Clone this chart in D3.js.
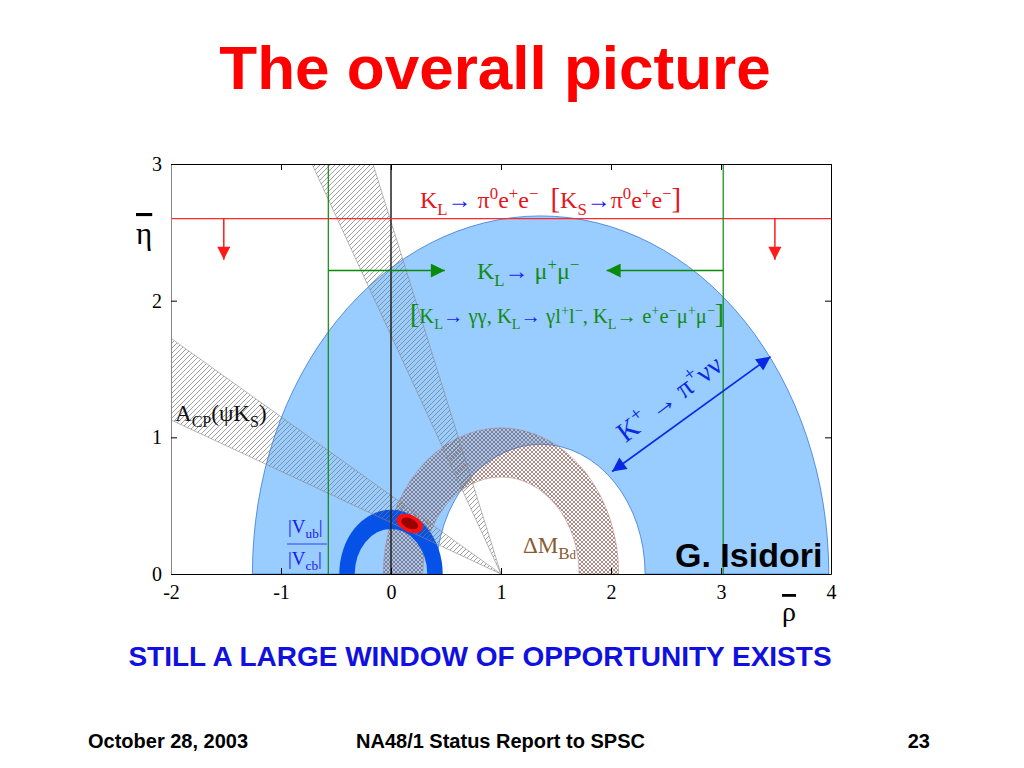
<!DOCTYPE html>
<html>
<head>
<meta charset="utf-8">
<script src="https://cdn.jsdelivr.net/npm/d3@7"></script>
<style>body{margin:0;background:#fff;}</style>
</head>
<body>
<div id="chart"></div>
<script>
// values (rho-bar, eta-bar)
var xTicks = [-2, -1, 0, 1, 2, 3, 4];
var yTicks = [0, 1, 2, 3];
var kPiNuNu = [1.36, 0.95, 2.62];     // centre rho, inner r, outer r
var vubRing = [0, 0.33, 0.47];        // centre rho, inner r, outer r
var dmBd = [1, 0.71, 1.07];           // centre rho, inner r, outer r
var acpWedge = [20.6, 29.9];          // degrees, apex at (1,0)
var alphaWedge = [60.2, 68.8];
var fitPoint = [0.17, 0.37];
var klPi0Limit = 2.6, klPi0Arrows = [-1.52, 3.49];
var klMuMuLimits = [-0.57, 3.02], klMuMuEta = 2.22, klMuMuTips = [0.49, 1.96];
var kPlusArrow = [[2.01, 0.75], [3.45, 1.59]];

var serif = "'Liberation Serif', 'DejaVu Serif', serif",
    sans = "'Liberation Sans', Arial, sans-serif";

var svg = d3.select("#chart").append("svg")
    .attr("width", 1024).attr("height", 768);

var x = d3.scaleLinear().domain([-2, 4]).range([171, 831]);
var y = d3.scaleLinear().domain([0, 3]).range([574, 164]);

var defs = svg.append("defs");
defs.append("clipPath").attr("id", "plot")
  .append("rect").attr("x", x(-2)).attr("y", y(3))
  .attr("width", x(4) - x(-2)).attr("height", y(0) - y(3));

var hatch = defs.append("pattern").attr("id", "hatch")
    .attr("patternUnits", "userSpaceOnUse").attr("width", 5).attr("height", 5);
hatch.append("path").attr("d", "M0,5L5,0M-1,1L1,-1M4,6L6,4")
    .attr("stroke", "#777").attr("stroke-width", 0.7);

var cross = defs.append("pattern").attr("id", "cross")
    .attr("patternUnits", "userSpaceOnUse").attr("width", 4).attr("height", 4);
cross.append("path").attr("d", "M0,0L4,4M4,0L0,4")
    .attr("stroke", "#8c5850").attr("stroke-width", 0.7);

// upper half annulus centred on the rho axis
function annulus(c, r0, r1) {
  var rx1 = x(r1) - x(0), ry1 = y(0) - y(r1),
      rx0 = x(r0) - x(0), ry0 = y(0) - y(r0);
  return "M" + x(c - r1) + "," + y(0) +
    "A" + rx1 + "," + ry1 + " 0 0 1 " + x(c + r1) + "," + y(0) +
    "L" + x(c + r0) + "," + y(0) +
    "A" + rx0 + "," + ry0 + " 0 0 0 " + x(c - r0) + "," + y(0) + "Z";
}

function wedge(a) {
  var pts = [[1, 0]].concat(a.map(function(d) {
    var t = d * Math.PI / 180;
    return [1 - 10 * Math.cos(t), 10 * Math.sin(t)];
  }));
  return d3.line().x(function(d) { return x(d[0]); }).y(function(d) { return y(d[1]); })(pts) + "Z";
}

var plot = svg.append("g").attr("clip-path", "url(#plot)");

plot.append("path").attr("d", annulus(kPiNuNu[0], kPiNuNu[1], kPiNuNu[2]))
    .attr("fill", "#99ccff").attr("stroke", "#3a78d8").attr("stroke-width", 0.8);

plot.append("path").attr("d", annulus(dmBd[0], dmBd[1], dmBd[2]))
    .attr("fill", "url(#cross)").attr("stroke", "#b08080").attr("stroke-width", 0.5);

plot.append("path").attr("d", annulus(vubRing[0], vubRing[1], vubRing[2]))
    .attr("fill", "#0652e8");

[acpWedge, alphaWedge].forEach(function(a) {
  plot.append("path").attr("d", wedge(a))
      .attr("fill", "url(#hatch)").attr("stroke", "#888").attr("stroke-width", 0.6);
});

var fp = plot.append("g")
    .attr("transform", "translate(" + x(fitPoint[0]) + "," + y(fitPoint[1]) + ") rotate(25)");
fp.append("ellipse").attr("rx", 14).attr("ry", 8.5).attr("fill", "#ff1010");
fp.append("ellipse").attr("rx", 9).attr("ry", 5).attr("fill", "#990000");

// rho = 0 line
plot.append("line").attr("x1", x(0)).attr("x2", x(0)).attr("y1", y(0)).attr("y2", y(3))
    .attr("stroke", "#222").attr("stroke-width", 1.5);

// markers
function marker(id, color, w, h) {
  defs.append("marker").attr("id", id).attr("viewBox", "0 0 10 10")
    .attr("refX", 10).attr("refY", 5).attr("markerUnits", "userSpaceOnUse")
    .attr("markerWidth", w).attr("markerHeight", h).attr("orient", "auto-start-reverse")
    .append("path").attr("d", "M0,0L10,5L0,10Z").attr("fill", color);
}
marker("redArr", "#ff1a1a", 17, 13);
marker("greenArr", "#0a8a0a", 22, 14);
marker("blueArr", "#0a28e6", 20, 14);

// K_L -> pi0 e+ e- limit
plot.append("line").attr("x1", x(-2)).attr("x2", x(4))
    .attr("y1", y(klPi0Limit)).attr("y2", y(klPi0Limit))
    .attr("stroke", "#ff2a2a").attr("stroke-width", 1.2);
klPi0Arrows.forEach(function(r) {
  plot.append("line").attr("x1", x(r)).attr("x2", x(r))
      .attr("y1", y(klPi0Limit)).attr("y2", y(klPi0Limit - 0.3))
      .attr("stroke", "#ff1a1a").attr("stroke-width", 1.5)
      .attr("marker-end", "url(#redArr)");
});

// K_L -> mu mu limits
klMuMuLimits.forEach(function(r, i) {
  plot.append("line").attr("x1", x(r)).attr("x2", x(r)).attr("y1", y(0)).attr("y2", y(3))
      .attr("stroke", "#0a8a0a").attr("stroke-width", 1.2);
  plot.append("line").attr("x1", x(r)).attr("x2", x(klMuMuTips[i]))
      .attr("y1", y(klMuMuEta)).attr("y2", y(klMuMuEta))
      .attr("stroke", "#0a8a0a").attr("stroke-width", 1.5)
      .attr("marker-end", "url(#greenArr)");
});

// K+ -> pi+ nu nu arrow
plot.append("line")
    .attr("x1", x(kPlusArrow[0][0])).attr("y1", y(kPlusArrow[0][1]))
    .attr("x2", x(kPlusArrow[1][0])).attr("y2", y(kPlusArrow[1][1]))
    .attr("stroke", "#0a28e6").attr("stroke-width", 1.6)
    .attr("marker-start", "url(#blueArr)").attr("marker-end", "url(#blueArr)");

// frame and axes
var fmt = function(d) { return String(d); };
function styleAxis(g) {
  g.attr("font-family", serif);
  g.select(".domain").attr("stroke", "#000");
  g.selectAll(".tick line").attr("stroke", "#000");
  g.selectAll(".tick text").attr("font-family", serif).attr("font-size", 20).attr("fill", "#000");
}
svg.append("g").attr("transform", "translate(0," + y(0) + ")")
    .call(d3.axisBottom(x).tickValues(xTicks).tickFormat(fmt).tickSize(-6).tickSizeOuter(0).tickPadding(11))
    .call(styleAxis);
svg.append("g").attr("transform", "translate(0," + y(3) + ")")
    .call(d3.axisTop(x).tickValues(xTicks).tickSize(-6).tickSizeOuter(0).tickFormat(""))
    .call(styleAxis);
svg.append("g").attr("transform", "translate(" + x(-2) + ",0)")
    .call(d3.axisLeft(y).tickValues(yTicks).tickFormat(fmt).tickSize(-6).tickSizeOuter(0).tickPadding(9))
    .call(styleAxis)
    .select(".domain").attr("stroke", "#888");
svg.append("g").attr("transform", "translate(" + x(4) + ",0)")
    .call(d3.axisRight(y).tickValues(yTicks).tickSize(-6).tickSizeOuter(0).tickFormat(""))
    .call(styleAxis);

// rich text helper with sub / superscripts
function rich(parent, px, py, parts, size, fill, anchor) {
  var t = parent.append("text").attr("x", px).attr("y", py)
      .attr("font-family", serif).attr("font-size", size).attr("fill", fill)
      .attr("text-anchor", anchor || "start").style("white-space", "pre");
  var cur = 0;
  parts.forEach(function(p) {
    var s = typeof p === "string" ? { t: p } : p;
    var off = s.sub ? size * 0.28 : s.sup ? -size * 0.38 : 0;
    var ts = t.append("tspan").attr("dy", off - cur).text(s.t);
    cur = off;
    if (s.sub || s.sup) ts.attr("font-size", size * 0.7);
    if (s.fill) ts.attr("fill", s.fill);
    if (s.size) ts.attr("font-size", s.size);
  });
  return t;
}

var blue = "#1a1aff";
rich(svg, 420, 208, ["K", { t: "L", sub: 1 }, { t: "\u2192 ", fill: blue }, "\u03c0", { t: "0", sup: 1 }, "e",
  { t: "+", sup: 1 }, "e", { t: "\u2212", sup: 1 }, "  ", { t: "[", size: 29 }, "K", { t: "S", sub: 1 },
  { t: "\u2192", fill: blue }, "\u03c0", { t: "0", sup: 1 }, "e", { t: "+", sup: 1 }, "e", { t: "\u2212", sup: 1 },
  { t: "]", size: 29 }], 24, "#e8141c");

rich(svg, 477, 279, ["K", { t: "L", sub: 1 }, { t: "\u2192 ", fill: blue }, "\u03bc", { t: "+", sup: 1 }, "\u03bc",
  { t: "\u2212", sup: 1 }], 24, "#138a13");

rich(svg, 410, 323, [{ t: "[", size: 28 }, "K", { t: "L", sub: 1 }, { t: "\u2192 ", fill: blue }, "\u03b3\u03b3, K",
  { t: "L", sub: 1 }, { t: "\u2192 ", fill: blue }, "\u03b3l", { t: "+", sup: 1 }, "l", { t: "\u2212", sup: 1 },
  ", K", { t: "L", sub: 1 }, "\u2192 e", { t: "+", sup: 1 }, "e", { t: "\u2212", sup: 1 }, "\u03bc",
  { t: "+", sup: 1 }, "\u03bc", { t: "\u2212", sup: 1 }, { t: "]", size: 28 }], 20.5, "#138a13");

rich(svg, 175, 421, ["A", { t: "CP", sub: 1 }, "(\u03c8K", { t: "S", sub: 1 }, ")"], 23, "#111");

rich(svg, 288, 533, ["|V", { t: "ub", sub: 1 }, "|"], 19, "#1a1aee");
rich(svg, 288, 565, ["|V", { t: "cb", sub: 1 }, "|"], 19, "#1a1aee");
svg.append("line").attr("x1", 287).attr("x2", 327).attr("y1", 544).attr("y2", 544)
    .attr("stroke", "#1a1aee").attr("stroke-width", 0.8);

rich(svg, 523, 553, ["\u0394M", { t: "B", sub: 1, size: 17 }, { t: "d", sub: 1, size: 13 }], 23, "#8a5a30");

rich(svg.append("g").attr("transform", "translate(675,406) rotate(-37)"), 0, 0,
  ["K", { t: "+", sup: 1 }, " \u2192 \u03c0", { t: "+", sup: 1 }, "\u03bd\u03bd"], 28, "#0a28e6", "middle");

// axis symbols
svg.append("text").attr("x", 136).attr("y", 244).attr("font-family", serif).attr("font-size", 31)
    .style("text-decoration", "overline").text("\u03b7");
svg.append("text").attr("x", 782).attr("y", 621).attr("font-family", serif).attr("font-size", 28)
    .style("text-decoration", "overline").text("\u03c1");

svg.append("text").attr("x", 675).attr("y", 567).attr("font-family", sans).attr("font-weight", "bold")
    .attr("font-size", 34).attr("fill", "#000").text("G. Isidori");

// slide texts
svg.append("text").attr("x", 495).attr("y", 89).attr("text-anchor", "middle")
    .attr("font-family", sans).attr("font-weight", "bold").attr("font-size", 62)
    .attr("fill", "#ff0000").text("The overall picture");
svg.append("text").attr("x", 480).attr("y", 666).attr("text-anchor", "middle")
    .attr("font-family", sans).attr("font-weight", "bold").attr("font-size", 28)
    .attr("fill", "#1010e0").text("STILL A LARGE WINDOW OF OPPORTUNITY EXISTS");
var foot = svg.append("g").attr("font-family", sans).attr("font-weight", "bold")
    .attr("font-size", 20).attr("fill", "#000");
foot.append("text").attr("x", 88).attr("y", 748).text("October 28, 2003");
foot.append("text").attr("x", 356).attr("y", 748).text("NA48/1 Status Report to SPSC");
foot.append("text").attr("x", 930).attr("y", 748).attr("text-anchor", "end").text("23");
</script>
</body>
</html>
